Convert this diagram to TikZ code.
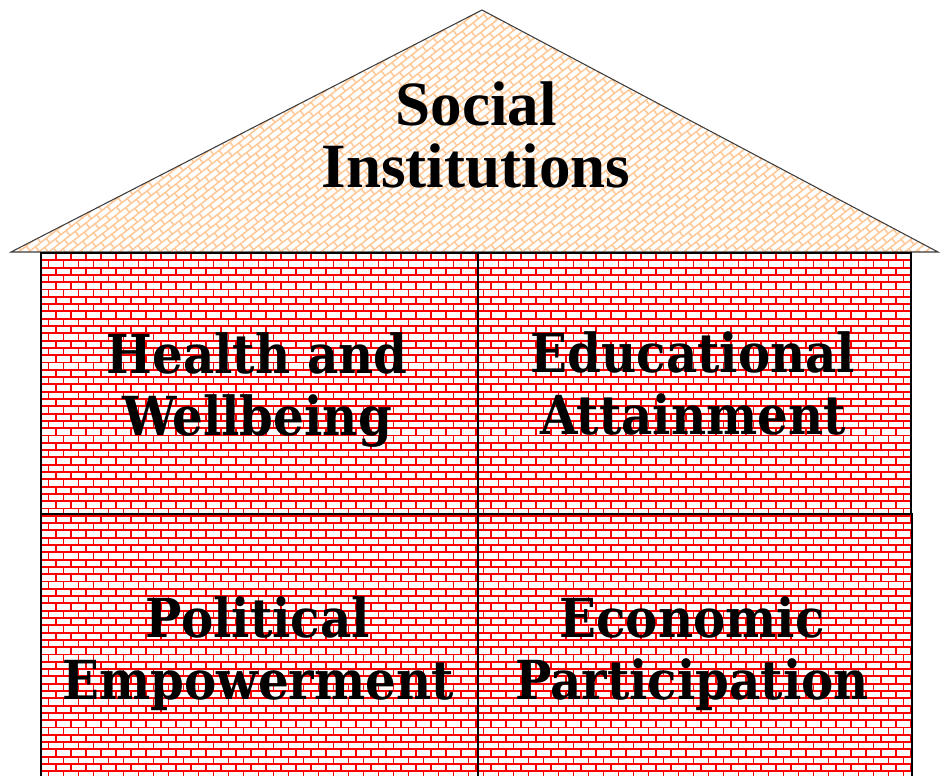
\documentclass[tikz,border=0pt]{standalone}
\usepackage{fontspec}
\newfontfamily\housefont{Liberation Serif Bold}
\newfontfamily\wallfont{DejaVu Serif Bold}[FakeStretch=0.9]
\definecolor{roofline}{RGB}{255,200,150}
\definecolor{edgegray}{RGB}{60,60,60}

\begin{document}
\begin{tikzpicture}[x=0.02cm, y=-0.02cm]
    % Define styles
    \tikzset{
        brick/.style={draw=red, line width=1.05pt},
        shingle/.style={draw=roofline, line width=0.85pt},
        roofedge/.style={draw=edgegray, line width=0.6pt},
        wallbox/.style={draw=black, line width=0.6pt},
        walltext/.style={inner sep=0pt, align=center, font=\wallfont\fontsize{30.6}{35.15}\selectfont},
        rooftext/.style={inner sep=0pt, align=center, font=\housefont\fontsize{35.9}{35.8}\selectfont}
    }
    \useasboundingbox (0,0) rectangle (943,775);

    % ROOF
    \begin{scope}
        \clip (11,252) -- (482,10) -- (938,252) -- cycle;
        \begin{scope}[shift={(476,170)}, rotate=38]
            \draw[shingle] \foreach \r in {-80,...,80} {(-485,6.2*\r) -- (485,6.2*\r)};
            \foreach \r [evaluate=\r as \off using {mod(\r+80,2)*6.8}] in {-80,...,79} {
                \draw[shingle] \foreach \c in {-37,...,36} {(13.6*\c+\off,6.2*\r) -- ++(0,6.2)};
            }
        \end{scope}
    \end{scope}
    \draw[roofedge] (11,252) -- (482,10) -- (938,252) -- cycle;

    % WALLS
    \begin{scope}
        \clip (41,253) rectangle (912,775);
        \draw[brick] \foreach \r in {0,...,72} {(41,253+7.3*\r) -- (912,253+7.3*\r)};
        \foreach \r [evaluate=\r as \off using {mod(\r,2)*7.5}] in {0,...,71} {
            \draw[brick] \foreach \c in {-1,...,58} {(41+15*\c+\off,253+7.3*\r) -- ++(0,7.3)};
        }
    \end{scope}
    \draw[wallbox] (41,253) rectangle (478,514);
    \draw[wallbox] (478,253) rectangle (911,514);
    \draw[wallbox] (41,780) |- (478,514) -- (478,780);
    \draw[wallbox] (478,780) |- (912,514) -- (912,780);

    % LABELS
    \node (social) [rooftext] at (476,135) {Social\\Institutions};
    \node (health) [walltext] at (257,390) {Health and\\Wellbeing};
    \node (education) [walltext] at (693,383.5) {Educational\\Attainment};
    \node (politics) [walltext] at (258,653.5) {Political\\Empowerment};
    \node (economy) [walltext] at (692,653.5) {Economic\\Participation};

\end{tikzpicture}
\end{document}
